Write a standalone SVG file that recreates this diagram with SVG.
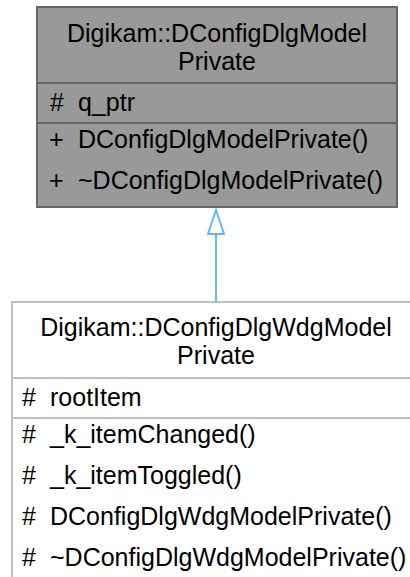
<svg xmlns="http://www.w3.org/2000/svg" width="410" height="577" viewBox="0 0 410 577">
<style>
text{font-family:"Liberation Sans",Arial,Helvetica,sans-serif;font-size:25px;fill:#000}
.c{text-anchor:middle}
.base rect{fill:#999999;stroke:#666666;stroke-width:2}
.base line{stroke:#666666;stroke-width:2}
.der rect{fill:#ffffff;stroke:#bfbfbf;stroke-width:2}
.der line{stroke:#bfbfbf;stroke-width:2}
.edge{stroke:#63b8ff;stroke-width:2;fill:none}
</style>
<rect width="410" height="577" fill="#ffffff"/>
<g id="node-base" class="base">
<rect x="37" y="7" width="360" height="200"/>
<line x1="37" y1="83" x2="397" y2="83"/>
<line x1="37" y1="123" x2="397" y2="123"/>
<text class="c" x="217" y="42">Digikam::DConfigDlgModel</text>
<text class="c" x="217" y="70">Private</text>
<text x="50" y="111">#</text>
<text x="78" y="111">q_ptr</text>
<text x="49" y="148">+</text>
<text x="78" y="148">DConfigDlgModelPrivate()</text>
<text x="49" y="189">+</text>
<text x="78" y="189">~DConfigDlgModelPrivate()</text>
</g>
<g id="node-derived" class="der">
<rect x="12" y="302" width="410" height="290"/>
<line x1="12" y1="378" x2="422" y2="378"/>
<line x1="12" y1="418" x2="422" y2="418"/>
<text class="c" x="216" y="336">Digikam::DConfigDlgWdgModel</text>
<text class="c" x="216" y="364">Private</text>
<text x="22" y="406">#</text>
<text x="50" y="406">rootItem</text>
<text x="22" y="443">#</text>
<text x="50" y="443">_k_itemChanged()</text>
<text x="22" y="484">#</text>
<text x="50" y="484">_k_itemToggled()</text>
<text x="22" y="525">#</text>
<text x="50" y="525">DConfigDlgWdgModelPrivate()</text>
<text x="22" y="566">#</text>
<text x="50" y="566">~DConfigDlgWdgModelPrivate()</text>
</g>
<g id="connectors">
<line class="edge" x1="216" y1="301" x2="216" y2="234"/>
<polygon class="edge" points="216,210 208,234 224,234"/>
</g>
</svg>
